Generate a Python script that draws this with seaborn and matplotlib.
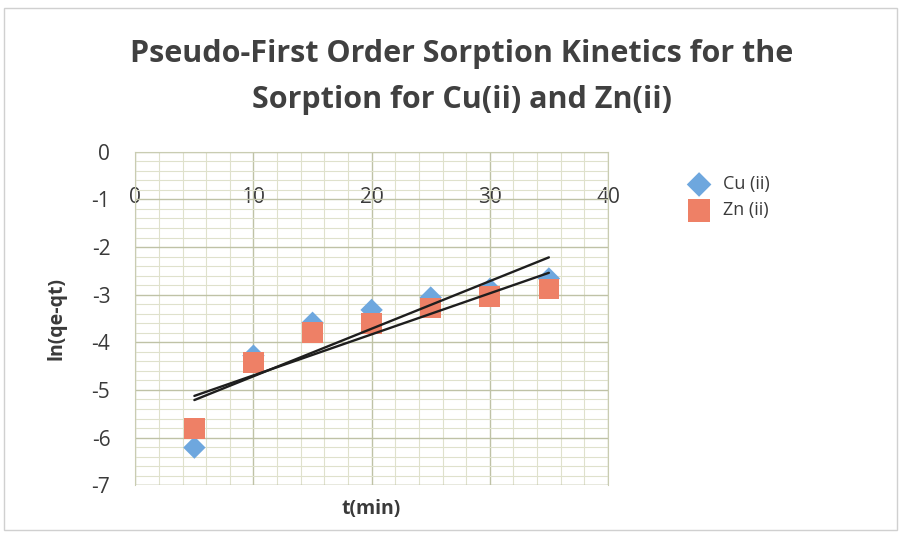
import numpy as np
import pandas as pd
import matplotlib
matplotlib.use("Agg")
import matplotlib.pyplot as plt
import seaborn as sns
from matplotlib.ticker import MultipleLocator

# data
t_min = [5, 10, 15, 20, 25, 30, 35]
cu_vals = [-6.21, -4.28, -3.59, -3.32, -3.06, -2.88, -2.66]
zn_vals = [-5.81, -4.42, -3.79, -3.61, -3.28, -3.04, -2.88]
series_names = ["Cu (ii)", "Zn (ii)"]
x_ticks = [0, 10, 20, 30, 40]
y_ticks = [0, -1, -2, -3, -4, -5, -6, -7]

sns.set_style("white")
plt.rcParams["font.family"] = ["Open Sans", "DejaVu Sans"]
plt.rcParams["axes.unicode_minus"] = False

txt = "#3a3a3a"
fig = plt.figure(figsize=(9.02, 5.52), dpi=100)
ax = fig.add_axes([0.150, 0.121, 0.524, 0.604])

# gridlines
ax.xaxis.set_major_locator(MultipleLocator(10))
ax.xaxis.set_minor_locator(MultipleLocator(2))
ax.yaxis.set_major_locator(MultipleLocator(1))
ax.yaxis.set_minor_locator(MultipleLocator(0.2))
ax.grid(which="major", color="#bfc2a6", lw=1.0)
ax.grid(which="minor", color="#dfe1cc", lw=0.8)
ax.set_axisbelow(True)

markers = ["D", "s"]
sizes = [130, 220]
colors = ["#6ea7de", "#ee8066"]
for name, vals, m, sz, c in zip(series_names, [cu_vals, zn_vals], markers, sizes, colors):
    d = pd.DataFrame({"t": t_min, "ln": vals})
    sns.scatterplot(data=d, x="t", y="ln", marker=m, s=sz, color=c,
                    edgecolor="none", linewidth=0, ax=ax, label=name, zorder=3)

for name, vals in zip(series_names, [cu_vals, zn_vals]):
    sns.regplot(x=t_min, y=vals, scatter=False, ci=None, ax=ax,
                color="#1e1e1e", line_kws={"lw": 1.7, "zorder": 4})

ax.set_xlim(0, 40)
ax.set_ylim(-7, 0)
ax.set_xticks(x_ticks)
ax.set_yticks(y_ticks)
ax.set_yticklabels([str(v) for v in y_ticks])

# x tick labels sit near the y=-1 line, like the Excel axis
ax.spines["bottom"].set_position(("data", -0.70))
ax.spines["bottom"].set_visible(False)
for s in ["top", "right", "left"]:
    ax.spines[s].set_color("#c9ccb2")
ax.axvline(0, color="#b3b698", lw=1.2, zorder=2)
ax.axhline(-7, color="#bfc2a6", lw=1.0, zorder=2)
ax.tick_params(axis="x", which="both", length=0, pad=1, labelsize=15, labelcolor=txt)
ax.tick_params(axis="y", which="both", length=0, pad=18, labelsize=15, labelcolor=txt)

ax.set_xlabel("t(min)", fontsize=14, fontweight="bold", color=txt)
ax.xaxis.set_label_coords(0.5, -0.04)
ax.set_ylabel("ln(qe-qt)", fontsize=14, fontweight="bold", color=txt)
ax.yaxis.set_label_coords(-0.145, 0.5)

handles, labels = ax.get_legend_handles_labels()
leg = ax.legend(handles[:2], labels[:2], loc="upper left", bbox_to_anchor=(0.737, 0.712),
                bbox_transform=fig.transFigure, frameon=False, fontsize=13,
                handletextpad=0.3, labelspacing=0.45, markerscale=1.1)
for t in leg.get_texts():
    t.set_color(txt)

fig.text(0.512, 0.93, "Pseudo-First Order Sorption Kinetics for the\nSorption for Cu(ii) and Zn(ii)",
         ha="center", va="top", fontsize=22, fontweight="bold", color="#404040",
         linespacing=1.7)

fig.patches.append(plt.Rectangle((0.004, 0.04), 0.99, 0.945, transform=fig.transFigure,
                                 fill=False, edgecolor="#d0d0d0", lw=1.0))

fig.savefig("out.png", dpi=100, facecolor="white")
